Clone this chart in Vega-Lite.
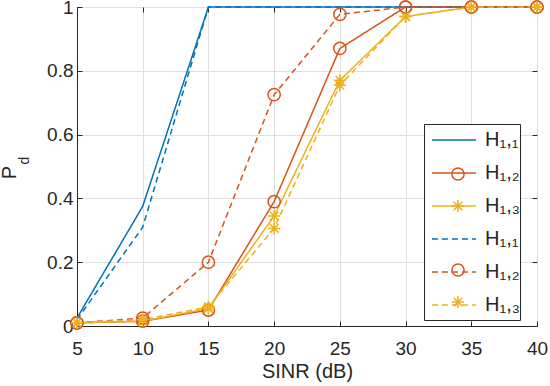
{
  "$schema": "https://vega.github.io/schema/vega-lite/v6.json",
  "width": 460,
  "height": 319,
  "autosize": "none",
  "padding": {"left": 77, "top": 7, "right": 13, "bottom": 60},
  "background": "white",
  "config": {
    "font": "Liberation Sans",
    "view": {"stroke": "#262626", "strokeWidth": 1}
  },
  "data": {
    "values": [
      {"snr": 5, "pd": 0.025, "series": "A1", "mk": "a1"},
      {"snr": 10, "pd": 0.375, "series": "A1", "mk": "a1"},
      {"snr": 15, "pd": 1, "series": "A1", "mk": "a1"},
      {"snr": 20, "pd": 1, "series": "A1", "mk": "a1"},
      {"snr": 25, "pd": 1, "series": "A1", "mk": "a1"},
      {"snr": 30, "pd": 1, "series": "A1", "mk": "a1"},
      {"snr": 35, "pd": 1, "series": "A1", "mk": "a1"},
      {"snr": 40, "pd": 1, "series": "A1", "mk": "a1"},
      {"snr": 5, "pd": 0.01, "series": "A2", "mk": "a2"},
      {"snr": 10, "pd": 0.015, "series": "A2", "mk": "a2"},
      {"snr": 15, "pd": 0.05, "series": "A2", "mk": "a2"},
      {"snr": 20, "pd": 0.39, "series": "A2", "mk": "a2"},
      {"snr": 25, "pd": 0.87, "series": "A2", "mk": "a2"},
      {"snr": 30, "pd": 1, "series": "A2", "mk": "a2"},
      {"snr": 35, "pd": 1, "series": "A2", "mk": "a2"},
      {"snr": 40, "pd": 1, "series": "A2", "mk": "a2"},
      {"snr": 5, "pd": 0.01, "series": "A3", "mk": "a3"},
      {"snr": 10, "pd": 0.015, "series": "A3", "mk": "a3"},
      {"snr": 15, "pd": 0.055, "series": "A3", "mk": "a3"},
      {"snr": 20, "pd": 0.345, "series": "A3", "mk": "a3"},
      {"snr": 25, "pd": 0.77, "series": "A3", "mk": "a3"},
      {"snr": 30, "pd": 0.97, "series": "A3", "mk": "a3"},
      {"snr": 35, "pd": 1, "series": "A3", "mk": "a3"},
      {"snr": 40, "pd": 1, "series": "A3", "mk": "a3"},
      {"snr": 5, "pd": 0.02, "series": "B1", "mk": "b1"},
      {"snr": 10, "pd": 0.31, "series": "B1", "mk": "b1"},
      {"snr": 15, "pd": 1, "series": "B1", "mk": "b1"},
      {"snr": 20, "pd": 1, "series": "B1", "mk": "b1"},
      {"snr": 25, "pd": 1, "series": "B1", "mk": "b1"},
      {"snr": 30, "pd": 1, "series": "B1", "mk": "b1"},
      {"snr": 35, "pd": 1, "series": "B1", "mk": "b1"},
      {"snr": 40, "pd": 1, "series": "B1", "mk": "b1"},
      {"snr": 5, "pd": 0.01, "series": "B2", "mk": "b2"},
      {"snr": 10, "pd": 0.025, "series": "B2", "mk": "b2"},
      {"snr": 15, "pd": 0.2, "series": "B2", "mk": "b2"},
      {"snr": 20, "pd": 0.725, "series": "B2", "mk": "b2"},
      {"snr": 25, "pd": 0.977, "series": "B2", "mk": "b2"},
      {"snr": 30, "pd": 1, "series": "B2", "mk": "b2"},
      {"snr": 35, "pd": 1, "series": "B2", "mk": "b2"},
      {"snr": 40, "pd": 1, "series": "B2", "mk": "b2"},
      {"snr": 5, "pd": 0.01, "series": "B3", "mk": "b3"},
      {"snr": 10, "pd": 0.02, "series": "B3", "mk": "b3"},
      {"snr": 15, "pd": 0.06, "series": "B3", "mk": "b3"},
      {"snr": 20, "pd": 0.306, "series": "B3", "mk": "b3"},
      {"snr": 25, "pd": 0.755, "series": "B3", "mk": "b3"},
      {"snr": 30, "pd": 0.97, "series": "B3", "mk": "b3"},
      {"snr": 35, "pd": 1, "series": "B3", "mk": "b3"},
      {"snr": 40, "pd": 1, "series": "B3", "mk": "b3"}
    ]
  },
  "layer": [
    {
      "mark": {"type": "line", "strokeWidth": 1.5, "clip": false},
      "encoding": {
        "x": {
          "field": "snr", "type": "quantitative",
          "scale": {"domain": [5, 40], "nice": false, "zero": false},
          "axis": {
            "orient": "bottom", "values": [5, 10, 15, 20, 25, 30, 35, 40],
            "title": "SINR (dB)", "titleFontSize": 20, "titleFontWeight": "normal", "titleColor": "#262626", "titlePadding": 3,
            "labelFontSize": 19, "labelColor": "#262626", "labelPadding": 18,
            "tickSize": -5, "tickColor": "#262626", "domainColor": "#262626",
            "grid": true, "gridColor": "#dfdfdf", "labelFlush": false
          }
        },
        "y": {
          "field": "pd", "type": "quantitative",
          "scale": {"domain": [0, 1], "nice": false, "zero": false},
          "axis": {
            "orient": "left", "values": [0, 0.2, 0.4, 0.6, 0.8, 1], "format": "~g",
            "title": "P", "titleFontSize": 20, "titleFontWeight": "normal", "titleColor": "#262626",
            "titleAngle": 270, "titleBaseline": "middle", "titleAlign": "center", "titleX": -68, "titleY": 165,
            "labelFontSize": 19, "labelColor": "#262626", "labelPadding": 9,
            "tickSize": -5, "tickColor": "#262626", "domainColor": "#262626",
            "grid": true, "gridColor": "#dfdfdf", "labelFlush": false
          }
        },
        "color": {
          "field": "series", "type": "nominal",
          "scale": {"domain": ["A1", "A2", "A3", "B1", "B2", "B3"], "range": ["#0072BD", "#D95319", "#EDB120", "#0072BD", "#D95319", "#EDB120"]},
          "legend": {
            "orient": "none", "legendX": 346, "legendY": 102, "zindex": 2,
            "title": null, "symbolType": "stroke", "symbolSize": 1950, "symbolStrokeWidth": 1.5,
            "strokeColor": "transparent", "fillColor": "transparent", "padding": 8,
            "labelFontSize": 20, "labelColor": "#262626", "labelOffset": 8, "rowPadding": 0,
            "labelExpr": "['H₁,₁','H₁,₂','H₁,₃','H₁,₁','H₁,₂','H₁,₃'][indexof(['A1','A2','A3','B1','B2','B3'], datum.label)]"
          }
        },
        "strokeDash": {
          "field": "series", "type": "nominal",
          "scale": {"domain": ["A1", "A2", "A3", "B1", "B2", "B3"], "range": [[1, 0], [1, 0], [1, 0], [6, 4], [6, 4], [6, 4]]},
          "legend": {
            "orient": "none", "legendX": 346, "legendY": 102, "zindex": 2,
            "title": null, "symbolType": "stroke", "symbolSize": 1950, "symbolStrokeWidth": 1.5,
            "strokeColor": "transparent", "fillColor": "transparent", "padding": 8,
            "labelFontSize": 20, "labelColor": "#262626", "labelOffset": 8, "rowPadding": 0,
            "labelExpr": "['H₁,₁','H₁,₂','H₁,₃','H₁,₁','H₁,₂','H₁,₃'][indexof(['A1','A2','A3','B1','B2','B3'], datum.label)]"
          }
        }
      }
    },
    {
      "mark": {"type": "point", "filled": false, "strokeWidth": 1.5, "size": 150, "opacity": 1, "clip": false},
      "encoding": {
        "x": {
          "field": "snr", "type": "quantitative",
          "axis": {"orient": "top", "values": [5, 10, 15, 20, 25, 30, 35, 40], "labels": false, "title": null, "grid": false, "domain": false, "tickSize": -5, "tickColor": "#262626"}
        },
        "y": {
          "field": "pd", "type": "quantitative",
          "axis": {
            "orient": "right", "values": [0, 0.2, 0.4, 0.6, 0.8, 1], "labels": false, "grid": false, "domain": false, "tickSize": -5, "tickColor": "#262626",
            "title": "d", "titleFontSize": 14, "titleFontWeight": "normal", "titleColor": "#262626",
            "titleAngle": 270, "titleBaseline": "middle", "titleAlign": "center", "titleX": -513, "titleY": 153
          }
        },
        "stroke": {
          "field": "mk", "type": "nominal",
          "scale": {"domain": ["a1", "a2", "a3", "b1", "b2", "b3"], "range": ["#0072BD", "#D95319", "#EDB120", "#0072BD", "#D95319", "#EDB120"]},
          "legend": {
            "orient": "none", "legendX": 347, "legendY": 117, "zindex": 1,
            "title": null, "symbolSize": 150, "symbolStrokeWidth": 1.5, "symbolOffset": 16,
            "strokeColor": "#262626", "fillColor": "white", "padding": 8,
            "labelFontSize": 20, "labelColor": "transparent", "labelOffset": 10, "rowPadding": 12,
            "labelExpr": "'H₁,₁'"
          }
        },
        "shape": {
          "field": "mk", "type": "nominal",
          "scale": {
            "domain": ["a1", "a2", "a3", "b1", "b2", "b3"],
            "range": ["M0,0", "circle", "M-1,0L1,0M0,-1L0,1M-0.7,-0.7L0.7,0.7M-0.7,0.7L0.7,-0.7", "M0,0", "circle", "M-1,0L1,0M0,-1L0,1M-0.7,-0.7L0.7,0.7M-0.7,0.7L0.7,-0.7"]
          },
          "legend": {
            "orient": "none", "legendX": 347, "legendY": 117, "zindex": 1,
            "title": null, "symbolSize": 150, "symbolStrokeWidth": 1.5, "symbolOffset": 16,
            "strokeColor": "#262626", "fillColor": "white", "padding": 8,
            "labelFontSize": 20, "labelColor": "transparent", "labelOffset": 10, "rowPadding": 12,
            "labelExpr": "'H₁,₁'"
          }
        }
      }
    }
  ],
  "resolve": {"axis": {"x": "independent", "y": "independent"}}
}
